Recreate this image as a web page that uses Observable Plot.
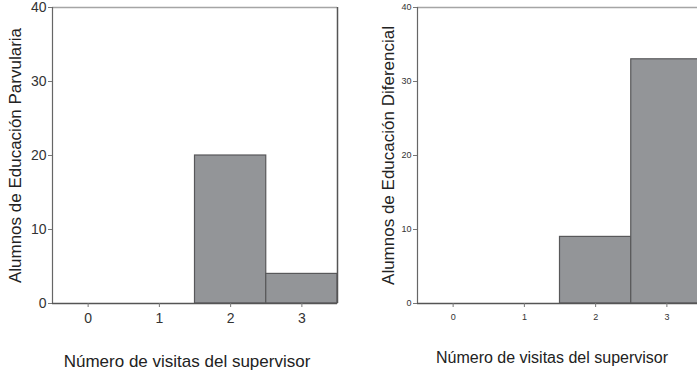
<!DOCTYPE html>
<html>
<head>
<meta charset="utf-8">
<script src="https://cdn.jsdelivr.net/npm/d3@7"></script>
<script src="https://cdn.jsdelivr.net/npm/@observablehq/plot@0.6"></script>
<style>
  html, body { margin: 0; padding: 0; background: #fff; }
  #wrap { position: relative; width: 697px; height: 373px; overflow: hidden; }
  #wrap > div { position: absolute; top: 0; width: 360px; }
  #wrap svg { overflow: visible; max-width: none !important; }
</style>
</head>
<body>
<div id="wrap">
  <div id="left" style="left:0"></div>
  <div id="right" style="left:350px"></div>
</div>
<script>
// Number of supervisor visits (categories on the x axis)
const visits = [0, 1, 2, 3];
// Students per number of visits, by program
const parvularia = [0, 0, 20, 4];
const diferencial = [0, 0, 9, 33];
const yTicks = [0, 10, 20, 30, 40];
const xTitle = "Número de visitas del supervisor";

function histogram({counts, yTitle, width, marginLeft, tickFont, tickFamily, titleDx, xTitleDy, xTitleFont}) {
  const data = visits.map((v, i) => ({visits: v, count: counts[i]}));
  return Plot.plot({
    width,
    height: 373,
    marginLeft,
    marginRight: width - marginLeft - 285,
    marginTop: 7,
    marginBottom: 70,
    style: {fontFamily: "'Liberation Sans', Arial, sans-serif", background: "#fff", color: "#333"},
    x: {domain: [-0.5, 3.5]},
    y: {domain: [0, 40]},
    marks: [
      Plot.rectY(data, {
        filter: d => d.count > 0,
        x1: d => d.visits - 0.5,
        x2: d => d.visits + 0.5,
        y: "count",
        fill: "#939598",
        stroke: "#58585a",
        strokeWidth: 1.2
      }),
      // box: light top edge, darker right edge, axis lines on left and bottom
      Plot.ruleY([40], {stroke: "#a5a5a5", strokeWidth: 1.5}),
      Plot.ruleX([3.5], {stroke: "#555", strokeWidth: 1.5}),
      Plot.ruleX([-0.5], {stroke: "#666", strokeWidth: 1.2}),
      Plot.ruleY([0], {stroke: "#555", strokeWidth: 1.5}),
      Plot.axisX(visits, {
        ticks: visits, tickFormat: "d", tickSize: 4, tickPadding: 6, label: null,
        fontSize: tickFont, fontFamily: tickFamily, stroke: "#777", fill: "#333"
      }),
      Plot.axisY(yTicks, {
        ticks: yTicks, tickFormat: "d", tickSize: 4, tickPadding: 2, label: null,
        fontSize: tickFont, fontFamily: tickFamily, stroke: "#777", fill: "#333"
      }),
      Plot.text([yTitle], {
        frameAnchor: "left", textAnchor: "middle", rotate: -90, dx: titleDx,
        fontSize: 17, fontFamily: "'Liberation Sans', sans-serif", fill: "#222"
      }),
      Plot.text([xTitle], {
        frameAnchor: "bottom", textAnchor: "middle", dy: xTitleDy, dx: -8,
        fontSize: xTitleFont, fontFamily: "'Liberation Sans Narrow', 'Liberation Sans', sans-serif", fill: "#222"
      })
    ]
  });
}

document.getElementById("left").append(histogram({
  counts: parvularia,
  yTitle: "Alumnos de Educación Parvularia",
  width: 350,
  marginLeft: 52,
  tickFont: 14,
  tickFamily: "'Liberation Sans', sans-serif",
  titleDx: -37,
  xTitleDy: 63,
  xTitleFont: 17
}));

document.getElementById("right").append(histogram({
  counts: diferencial,
  yTitle: "Alumnos de Educación Diferencial",
  width: 360,
  marginLeft: 67,
  tickFont: 9,
  tickFamily: "'Liberation Sans', sans-serif",
  titleDx: -29,
  xTitleDy: 59,
  xTitleFont: 16
}));
</script>
</body>
</html>
